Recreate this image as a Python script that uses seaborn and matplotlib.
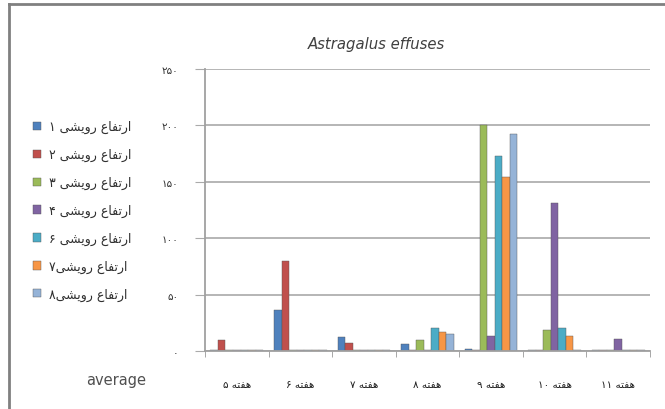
import re
import numpy as np
import pandas as pd
import matplotlib
matplotlib.use('Agg')
import matplotlib.pyplot as plt
import seaborn as sns

plt.rcParams['font.family'] = ['DejaVu Sans']

# data
weeks = ['هفته ۵', 'هفته ۶', 'هفته ۷', 'هفته ۸', 'هفته ۹', 'هفته ۱۰', 'هفته ۱۱']
series = ['ارتفاع رویشی ۱', 'ارتفاع رویشی ۲', 'ارتفاع رویشی ۳', 'ارتفاع رویشی ۴',
          'ارتفاع رویشی ۶', 'ارتفاع رویشی۷', 'ارتفاع رویشی۸']
h1 = [1, 36, 12, 6, 2, 1, 1]
h2 = [10, 80, 7, 1, 1, 1, 1]
h3 = [1, 1, 1, 10, 200, 19, 1]
h4 = [1, 1, 1, 1, 13, 131, 11]
h5 = [1, 1, 1, 20, 173, 20, 1]
h6 = [1, 1, 1, 17, 154, 13, 1]
h7 = [1, 1, 1, 15, 192, 1, 1]
yticks = [0, 50, 100, 150, 200, 250]
ytick_labels = ['۰', '۵۰', '۱۰۰', '۱۵۰', '۲۰۰', '۲۵۰']
colors = ['#4F81BD', '#C0504D', '#9BBB59', '#8064A2', '#4BACC6', '#F79646', '#95B3D7']

# matplotlib has no arabic shaping, so pick presentation forms by hand
FORMS = {
    'ا': ('\uFE8D', '\uFE8E', None, None),
    'ر': ('\uFEAD', '\uFEAE', None, None),
    'و': ('\uFEED', '\uFEEE', None, None),
    'ت': ('\uFE95', '\uFE96', '\uFE97', '\uFE98'),
    'ف': ('\uFED1', '\uFED2', '\uFED3', '\uFED4'),
    'ع': ('\uFEC9', '\uFECA', '\uFECB', '\uFECC'),
    'ش': ('\uFEB5', '\uFEB6', '\uFEB7', '\uFEB8'),
    'ه': ('\uFEE9', '\uFEEA', '\uFEEB', '\uFEEC'),
    'ی': ('\uFEEF', '\uFEF0', '\uFEF3', '\uFEF4'),
}
DUAL = set('تفعشهی')


def rtl(text):
    out = []
    for i, ch in enumerate(text):
        if ch not in FORMS:
            out.append(ch)
            continue
        prev = text[i - 1] if i > 0 else ''
        nxt = text[i + 1] if i + 1 < len(text) else ''
        jp = prev in DUAL
        jn = ch in DUAL and nxt in FORMS
        iso, fin, ini, med = FORMS[ch]
        out.append(med if (jp and jn) else fin if jp else ini if jn else iso)
    tokens = re.findall(r'[۰-۹]+|.', ''.join(out))
    return ''.join(tokens[::-1])


df = pd.DataFrame({'week': weeks, series[0]: h1, series[1]: h2, series[2]: h3,
                   series[3]: h4, series[4]: h5, series[5]: h6, series[6]: h7})
df = df.melt(id_vars='week', var_name='series', value_name='value')

fig = plt.figure(figsize=(6.65, 4.10), dpi=100)
ax = fig.add_axes([205 / 665, 1 - 352 / 410, 445 / 665, 282 / 410])

sns.barplot(data=df, x='week', y='value', hue='series', order=weeks, hue_order=series,
            palette=colors, saturation=1, width=0.83, edgecolor='#555555', linewidth=0.3,
            ax=ax)

ax.set_xlim(-0.5, 6.5)
ax.set_ylim(0, 250)
ax.set_yticks(yticks)
ax.set_yticklabels(ytick_labels, fontsize=7.5, color='#303030')
ax.set_xticks(range(len(weeks)))
ax.set_xticklabels([rtl(w) for w in weeks], fontsize=7.5, color='#202020')
ax.set_xticks(np.arange(-0.5, 7, 1), minor=True)
ax.tick_params(axis='x', which='major', length=0, pad=20)
ax.tick_params(axis='x', which='minor', length=4, color='#999999')
ax.tick_params(axis='y', length=7, color='#aaaaaa', pad=12)
ax.set_xlabel('')
ax.set_ylabel('')
ax.grid(axis='y', color='#b0b0b0', lw=1.3)
ax.set_axisbelow(True)
for s in ['top', 'right']:
    ax.spines[s].set_visible(False)
for s in ['left', 'bottom']:
    ax.spines[s].set_color('#a0a0a0')
    ax.spines[s].set_linewidth(1.3)

handles, labels = ax.get_legend_handles_labels()
ax.get_legend().remove()
fig.legend(handles, [rtl(l) for l in labels], loc='upper left',
           bbox_to_anchor=(22 / 665, 1 - 110 / 410), frameon=False, fontsize=9,
           handlelength=0.65, handleheight=0.65, handletextpad=0.6, labelspacing=1.18,
           labelcolor='#303030')

fig.text(376 / 665, 1 - 45 / 410, 'Astragalus effuses', ha='center', va='center',
         fontsize=10.7, style='italic', color='#404040')
fig.text(86 / 665, 1 - 381 / 410, 'average', ha='left', va='center',
         fontsize=10.5, color='#505050')

# outer chart frame (top and left edges)
fig.add_artist(plt.Line2D([9 / 665, 9 / 665], [0, 1 - 5 / 410], transform=fig.transFigure,
                          color='#808080', lw=2))
fig.add_artist(plt.Line2D([9 / 665, 1], [1 - 5 / 410, 1 - 5 / 410], transform=fig.transFigure,
                          color='#808080', lw=2))

fig.savefig('out.png', dpi=100)
